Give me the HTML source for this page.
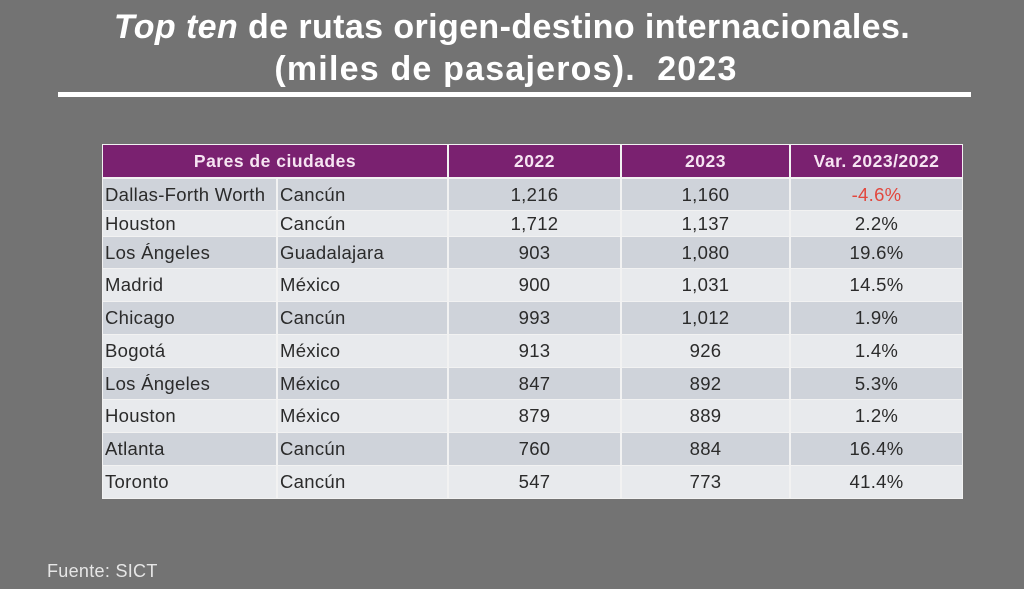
<!DOCTYPE html>
<html>
<head>
<meta charset="utf-8">
<style>
html,body{margin:0;padding:0;}
body{width:1024px;height:589px;background:#737373;position:relative;overflow:hidden;font-family:"Liberation Sans",sans-serif;}
.t{position:absolute;left:0;width:1024px;text-align:center;color:#fff;font-weight:bold;font-size:34px;letter-spacing:0.4px;white-space:nowrap;}
.rule{position:absolute;left:58px;top:92px;width:913px;height:5px;background:#fff;}
.tbl{position:absolute;left:102px;top:144px;width:861px;height:355px;background:#f2f2f2;}
.c{position:absolute;display:flex;align-items:center;font-size:18.5px;letter-spacing:0.3px;color:#2b2b2b;white-space:nowrap;}
.h{background:#7a2170;color:#f6e4f2;font-weight:bold;font-size:17.5px;letter-spacing:0.5px;justify-content:center;}
.d{background:#cfd3da;}
.l{background:#e8eaed;}
.ctr{justify-content:center;}
.lft{padding-left:2px;box-sizing:border-box;}
.red{color:#e2473d;}
.src{position:absolute;left:47px;top:561px;font-size:18px;color:#e6e6e6;white-space:nowrap;letter-spacing:0.3px;}
</style>
</head>
<body>
<div class="t" style="top:8px;left:0px;"><i>Top ten</i> de rutas origen-destino internacionales.</div>
<div class="t" style="top:50px;left:-6px;letter-spacing:1.2px;">(miles de pasajeros).&nbsp; 2023</div>
<div class="rule"></div>

<div class="c h" style="left:103px;top:145px;width:344px;height:32px;">Pares de ciudades</div>
<div class="c h" style="left:449px;top:145px;width:171px;height:32px;">2022</div>
<div class="c h" style="left:622px;top:145px;width:167px;height:32px;">2023</div>
<div class="c h" style="left:791px;top:145px;width:171px;height:32px;">Var. 2023/2022</div>
<div class="tbl" style="z-index:-1"></div>

<!-- row 1 -->
<div class="c d lft" style="left:103px;top:179px;width:173px;height:31px;">Dallas-Forth Worth</div>
<div class="c d lft" style="left:278px;top:179px;width:169px;height:31px;">Cancún</div>
<div class="c d ctr" style="left:449px;top:179px;width:171px;height:31px;">1,216</div>
<div class="c d ctr" style="left:622px;top:179px;width:167px;height:31px;">1,160</div>
<div class="c d ctr red" style="left:791px;top:179px;width:171px;height:31px;">-4.6%</div>
<!-- row 2 -->
<div class="c l lft" style="left:103px;top:211px;width:173px;height:25px;">Houston</div>
<div class="c l lft" style="left:278px;top:211px;width:169px;height:25px;">Cancún</div>
<div class="c l ctr" style="left:449px;top:211px;width:171px;height:25px;">1,712</div>
<div class="c l ctr" style="left:622px;top:211px;width:167px;height:25px;">1,137</div>
<div class="c l ctr" style="left:791px;top:211px;width:171px;height:25px;">2.2%</div>
<!-- row 3 -->
<div class="c d lft" style="left:103px;top:237px;width:173px;height:31px;">Los Ángeles</div>
<div class="c d lft" style="left:278px;top:237px;width:169px;height:31px;">Guadalajara</div>
<div class="c d ctr" style="left:449px;top:237px;width:171px;height:31px;">903</div>
<div class="c d ctr" style="left:622px;top:237px;width:167px;height:31px;">1,080</div>
<div class="c d ctr" style="left:791px;top:237px;width:171px;height:31px;">19.6%</div>
<!-- row 4 -->
<div class="c l lft" style="left:103px;top:269px;width:173px;height:32px;">Madrid</div>
<div class="c l lft" style="left:278px;top:269px;width:169px;height:32px;">México</div>
<div class="c l ctr" style="left:449px;top:269px;width:171px;height:32px;">900</div>
<div class="c l ctr" style="left:622px;top:269px;width:167px;height:32px;">1,031</div>
<div class="c l ctr" style="left:791px;top:269px;width:171px;height:32px;">14.5%</div>
<!-- row 5 -->
<div class="c d lft" style="left:103px;top:302px;width:173px;height:32px;">Chicago</div>
<div class="c d lft" style="left:278px;top:302px;width:169px;height:32px;">Cancún</div>
<div class="c d ctr" style="left:449px;top:302px;width:171px;height:32px;">993</div>
<div class="c d ctr" style="left:622px;top:302px;width:167px;height:32px;">1,012</div>
<div class="c d ctr" style="left:791px;top:302px;width:171px;height:32px;">1.9%</div>
<!-- row 6 -->
<div class="c l lft" style="left:103px;top:335px;width:173px;height:32px;">Bogotá</div>
<div class="c l lft" style="left:278px;top:335px;width:169px;height:32px;">México</div>
<div class="c l ctr" style="left:449px;top:335px;width:171px;height:32px;">913</div>
<div class="c l ctr" style="left:622px;top:335px;width:167px;height:32px;">926</div>
<div class="c l ctr" style="left:791px;top:335px;width:171px;height:32px;">1.4%</div>
<!-- row 7 -->
<div class="c d lft" style="left:103px;top:368px;width:173px;height:31px;">Los Ángeles</div>
<div class="c d lft" style="left:278px;top:368px;width:169px;height:31px;">México</div>
<div class="c d ctr" style="left:449px;top:368px;width:171px;height:31px;">847</div>
<div class="c d ctr" style="left:622px;top:368px;width:167px;height:31px;">892</div>
<div class="c d ctr" style="left:791px;top:368px;width:171px;height:31px;">5.3%</div>
<!-- row 8 -->
<div class="c l lft" style="left:103px;top:400px;width:173px;height:32px;">Houston</div>
<div class="c l lft" style="left:278px;top:400px;width:169px;height:32px;">México</div>
<div class="c l ctr" style="left:449px;top:400px;width:171px;height:32px;">879</div>
<div class="c l ctr" style="left:622px;top:400px;width:167px;height:32px;">889</div>
<div class="c l ctr" style="left:791px;top:400px;width:171px;height:32px;">1.2%</div>
<!-- row 9 -->
<div class="c d lft" style="left:103px;top:433px;width:173px;height:32px;">Atlanta</div>
<div class="c d lft" style="left:278px;top:433px;width:169px;height:32px;">Cancún</div>
<div class="c d ctr" style="left:449px;top:433px;width:171px;height:32px;">760</div>
<div class="c d ctr" style="left:622px;top:433px;width:167px;height:32px;">884</div>
<div class="c d ctr" style="left:791px;top:433px;width:171px;height:32px;">16.4%</div>
<!-- row 10 -->
<div class="c l lft" style="left:103px;top:466px;width:173px;height:32px;">Toronto</div>
<div class="c l lft" style="left:278px;top:466px;width:169px;height:32px;">Cancún</div>
<div class="c l ctr" style="left:449px;top:466px;width:171px;height:32px;">547</div>
<div class="c l ctr" style="left:622px;top:466px;width:167px;height:32px;">773</div>
<div class="c l ctr" style="left:791px;top:466px;width:171px;height:32px;">41.4%</div>

<div class="src">Fuente: SICT</div>
</body>
</html>
